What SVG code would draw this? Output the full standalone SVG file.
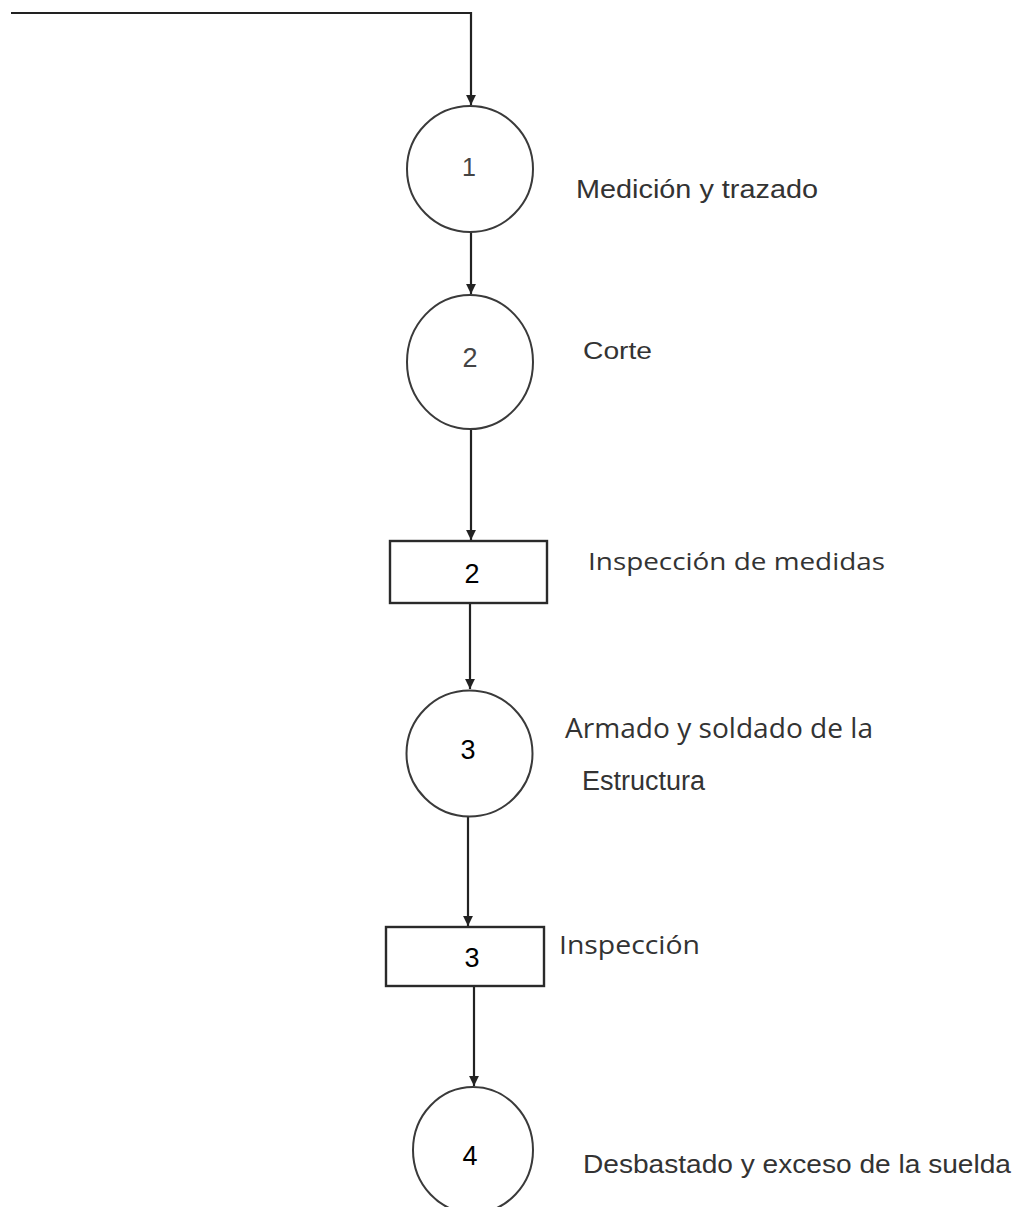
<svg xmlns="http://www.w3.org/2000/svg" width="1019" height="1207" viewBox="0 0 1019 1207">
<style>
.bg{fill:#fff}
.op{fill:#fff;stroke:#3a3a3a;stroke-width:2}
.ins{fill:#fff;stroke:#2a2a2a;stroke-width:2.4}
.conn{fill:none;stroke:#222;stroke-width:2.2}
.lbl{font-family:"Liberation Sans",Arial,sans-serif;fill:#333}
.lblh{font-family:"Open Sans","Liberation Sans",sans-serif;fill:#333}
.num{font-family:"Liberation Sans",Arial,sans-serif;text-anchor:middle}
.g{fill:#444}
.k{fill:#000}
</style>
<defs>
<marker id="arr" viewBox="0 0 10 10" refX="10" refY="5" markerWidth="4.5" markerHeight="4.5" orient="auto" markerUnits="strokeWidth">
<path d="M0,0 L10,5 L0,10 z" fill="#222"/>
</marker>
</defs>
<rect class="bg" x="0" y="0" width="1019" height="1207"/>
<g id="connectors">
<path class="conn" d="M11,13 H471 V105" marker-end="url(#arr)"/>
<path class="conn" d="M471,232 V294" marker-end="url(#arr)"/>
<path class="conn" d="M471,429 V540" marker-end="url(#arr)"/>
<path class="conn" d="M470,603 V689" marker-end="url(#arr)"/>
<path class="conn" d="M468,817 V926" marker-end="url(#arr)"/>
<path class="conn" d="M474,986 V1086" marker-end="url(#arr)"/>
</g>
<g id="op1">
<ellipse class="op" cx="470" cy="169" rx="63" ry="63"/>
<text class="num g" x="469" y="176" font-size="25">1</text>
<text class="lbl" x="576" y="198" font-size="25" textLength="242" lengthAdjust="spacingAndGlyphs">Medición y trazado</text>
</g>
<g id="op2">
<ellipse class="op" cx="470" cy="362" rx="63" ry="67"/>
<text class="num g" x="470" y="367" font-size="27">2</text>
<text class="lbl" x="583" y="359" font-size="24" textLength="69" lengthAdjust="spacingAndGlyphs">Corte</text>
</g>
<g id="insp2">
<rect class="ins" x="390" y="541" width="157" height="62"/>
<text class="num k" x="472" y="583" font-size="27">2</text>
<text class="lblh" x="588" y="570" font-size="24" textLength="297" lengthAdjust="spacingAndGlyphs">Inspección de medidas</text>
</g>
<g id="op3">
<ellipse class="op" cx="469.5" cy="753.5" rx="63" ry="63"/>
<text class="num k" x="468" y="759" font-size="27">3</text>
<text class="lblh" x="565" y="738" font-size="27" textLength="308" lengthAdjust="spacingAndGlyphs">Armado y soldado de la</text>
<text class="lbl" x="582" y="790" font-size="27" textLength="123" lengthAdjust="spacingAndGlyphs">Estructura</text>
</g>
<g id="insp3">
<rect class="ins" x="386" y="927" width="158" height="59"/>
<text class="num k" x="472" y="967" font-size="27">3</text>
<text class="lblh" x="559" y="954" font-size="26" textLength="141" lengthAdjust="spacingAndGlyphs">Inspección</text>
</g>
<g id="op4">
<ellipse class="op" cx="473" cy="1150" rx="60" ry="63"/>
<text class="num k" x="470" y="1165" font-size="27">4</text>
<text class="lbl" x="583" y="1173" font-size="26" textLength="428" lengthAdjust="spacingAndGlyphs">Desbastado y exceso de la suelda</text>
</g>
</svg>
